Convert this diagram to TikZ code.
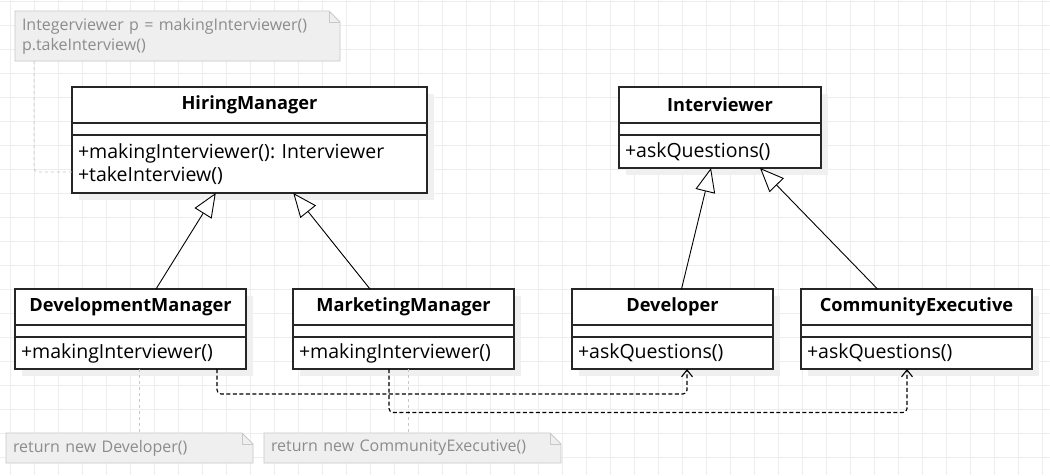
\documentclass[tikz,border=0pt]{standalone}
\usepackage{fontspec}
\setmainfont{Open Sans}
\usetikzlibrary{positioning,arrows.meta,shadows,backgrounds}

\definecolor{gridgray}{HTML}{EDEDED}
\definecolor{notefill}{HTML}{EFEFEF}
\definecolor{noteedge}{HTML}{C8C8C8}
\definecolor{notetext}{HTML}{8C8C8C}

\frenchspacing

\begin{document}
\begin{tikzpicture}[x=1pt, y=-1pt,
                    every node/.style={inner sep=0pt, outer sep=0pt},
                    box/.style={draw=black!85, line width=1.2pt, fill=white,
                        general shadow={shadow xshift=7pt, shadow yshift=-7pt, fill=black!6}},
                    classname/.style={box, minimum width=#1, minimum height=36,
                        font=\bfseries\fontsize{18.2}{21}\selectfont},
                    classattr/.style={box, minimum width=#1, minimum height=12},
                    classops/.style={box, minimum width=#1, minimum height=32,
                        text width=#1-12, inner xsep=6pt, align=left,
                        font=\fontsize{19.5}{23.5}\selectfont},
                    note/.style={anchor=north west, minimum width=#1, minimum height=30,
                        text width=#1-14, inner xsep=7pt, align=left, text=notetext,
                        font=\fontsize{16}{20}\selectfont},
                    notebody/.style={fill=notefill, draw=noteedge, line width=0.8pt},
                    notelink/.style={draw=noteedge, line width=0.8pt, dash pattern=on 3pt off 3pt},
                    inherit/.style={-{Triangle[open, length=24pt, width=20pt, fill=white]}, line width=0.9pt},
                    depend/.style={-{Straight Barb[length=7pt, width=11pt]}, line width=1.1pt,
                        dash pattern=on 4pt off 2.5pt, rounded corners=4pt}]

    \useasboundingbox (0,0) rectangle (1050,475);
    \begin{scope}[on background layer]
        \fill[white] (0,0) rectangle (1050,475);
        \foreach \k in {0,...,43}
            \draw[gridgray, line width=0.8pt] (10.7+24*\k,0) -- (10.7+24*\k,475);
        \foreach \k in {0,...,19}
            \draw[gridgray, line width=0.8pt] (0,1.3+24*\k) -- (1050,1.3+24*\k);
    \end{scope}

    % classes
    \node[classname=355, anchor=north] (hm) at (249.5,87) {HiringManager};
    \node[classattr=355, below=0pt of hm] (hmattr) {};
    \node[classops=355, minimum height=58, below=0pt of hmattr] (hmops)
        {+makingInterviewer(): Interviewer\\+takeInterview()};

    \node[classname=202, anchor=north] (iv) at (720,87) {Interviewer};
    \node[classattr=202, below=0pt of iv] (ivattr) {};
    \node[classops=202, minimum height=33, below=0pt of ivattr] (ivops) {+askQuestions()};

    \node[classname=231, anchor=north] (dm) at (130.5,289) {DevelopmentManager};
    \node[classattr=231, below=0pt of dm] (dmattr) {};
    \node[classops=231, below=0pt of dmattr] (dmops) {+makingInterviewer()};

    \node[classname=221, anchor=north] (mm) at (403.5,289) {MarketingManager};
    \node[classattr=221, below=0pt of mm] (mmattr) {};
    \node[classops=221, below=0pt of mmattr] (mmops) {+makingInterviewer()};

    \node[classname=201, anchor=north] (dev) at (672.5,289) {Developer};
    \node[classattr=201, below=0pt of dev] (devattr) {};
    \node[classops=201, below=0pt of devattr] (devops) {+askQuestions()};

    \node[classname=231, anchor=north] (ce) at (916.5,289) {CommunityExecutive};
    \node[classattr=231, below=0pt of ce] (ceattr) {};
    \node[classops=231, below=0pt of ceattr] (ceops) {+askQuestions()};

    % notes
    \node[note=325, minimum height=50] (nmain) at (15,11)
        {Integerviewer p = makingInterviewer()\\p.takeInterview()};
    \node[note=247] (ndev) at (6,433) {return new Developer()};
    \node[note=297] (nce) at (264,433) {return new CommunityExecutive()};

    \begin{scope}[on background layer]
        \foreach \n in {nmain,ndev,nce}
            \filldraw[notebody] (\n.south west) -- (\n.north west)
                -- ([shift={(-11,0)}]\n.north east) -- ([shift={(0,11)}]\n.north east)
                -- (\n.south east) -- cycle;
    \end{scope}
    \foreach \n in {nmain,ndev,nce}
        \draw[noteedge, line width=0.8pt] ([shift={(-11,0)}]\n.north east)
            |- ([shift={(0,11)}]\n.north east);

    \draw[notelink, rounded corners=4pt] ([shift={(19,0)}]nmain.south west)
        |- ([shift={(0,8)}]hmops.west);
    \draw[notelink] ([shift={(8.5,0)}]dmops.south) coordinate (dlink) -- (dlink |- ndev.north);
    \draw[notelink] ([shift={(4.5,0)}]mmops.south) coordinate (mlink) -- (mlink |- nce.north);

    % generalization
    \draw[inherit] ([shift={(25.5,0)}]dm.north) -- ([shift={(-33.75,0)}]hmops.south);
    \draw[inherit] ([shift={(-33.5,0)}]mm.north) -- ([shift={(43.75,0)}]hmops.south);
    \draw[inherit] ([shift={(9,0)}]dev.north) -- ([shift={(-9,0)}]ivops.south);
    \draw[inherit] ([shift={(-39,0)}]ce.north) -- ([shift={(40,0)}]ivops.south);

    % dependencies
    \draw[depend] ([shift={(86.5,0)}]dmops.south) -- ++(0,25) -| ([shift={(14.5,0)}]devops.south);
    \draw[depend] ([shift={(-14.5,0)}]mmops.south) -- ++(0,43.5) -| ([shift={(-9.5,0)}]ceops.south);
\end{tikzpicture}
\end{document}
